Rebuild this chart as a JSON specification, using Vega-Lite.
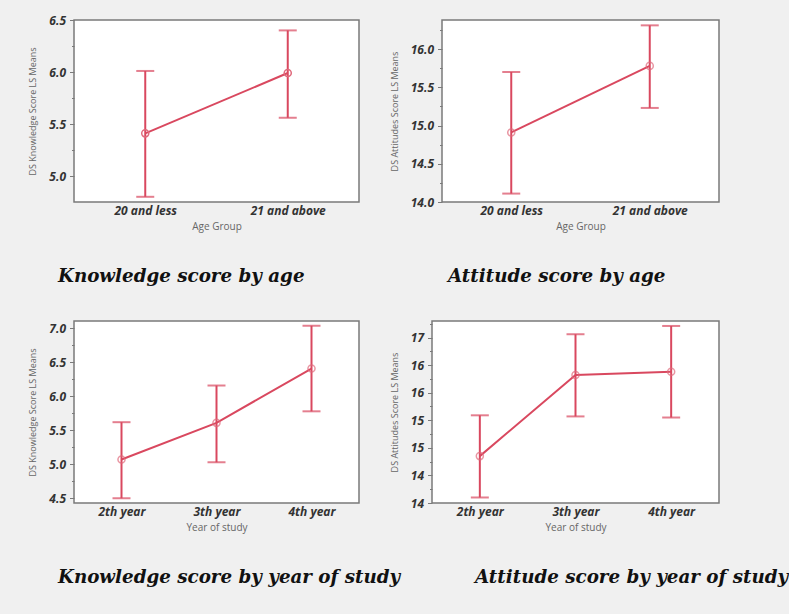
{
  "$schema": "https://vega.github.io/schema/vega-lite/v6.json",
  "padding": {"left": 28, "top": 13, "right": 30, "bottom": 40},
  "datasets": {
    "age_knowledge": [
      {"group": "20 and less", "mean": 5.41, "lower": 4.80, "upper": 6.01},
      {"group": "21 and above", "mean": 5.99, "lower": 5.56, "upper": 6.40}
    ],
    "age_attitude": [
      {"group": "20 and less", "mean": 14.91, "lower": 14.11, "upper": 15.70},
      {"group": "21 and above", "mean": 15.78, "lower": 15.23, "upper": 16.31}
    ],
    "year_knowledge": [
      {"group": "2th year", "mean": 5.07, "lower": 4.50, "upper": 5.62},
      {"group": "3th year", "mean": 5.61, "lower": 5.03, "upper": 6.16},
      {"group": "4th year", "mean": 6.41, "lower": 5.78, "upper": 7.04}
    ],
    "year_attitude": [
      {"group": "2th year", "mean": 14.85, "lower": 14.10, "upper": 15.59},
      {"group": "3th year", "mean": 16.32, "lower": 15.57, "upper": 17.06},
      {"group": "4th year", "mean": 16.38, "lower": 15.55, "upper": 17.21}
    ]
  },
  "spacing": 301,
  "bounds": "flush",
  "vconcat": [
    {
      "spacing": 83,
      "bounds": "flush",
      "hconcat": [
        {
          "width": 285, "height": 182,
          "data": {"name": "age_knowledge"},
          "title": {"text": "Knowledge score by age", "dx": -16},
          "encoding": {"x": {"field": "group", "type": "ordinal", "sort": null, "scale": {"type": "point", "padding": 0.5}, "axis": {"title": "Age Group"}}},
          "layer": [
            {"mark": {"type": "rule", "color": "#d9485f", "strokeWidth": 2},
             "encoding": {"y": {"field": "lower", "type": "quantitative", "title": "DS Knowledge Score LS Means",
               "scale": {"domain": [4.75, 6.5], "nice": false, "zero": false},
               "axis": {"tickCount": 40, "labelOverlap": false, "values": [5, 5.25, 5.5, 5.75, 6, 6.25, 6.5], "labelExpr": "datum.value % 0.5 == 0 ? format(datum.value, '.1f') : ''",
                 "tickSize": {"condition": {"test": "datum.value % 0.5 != 0", "value": 2.5}, "value": 4.5}}},
               "y2": {"field": "upper"}}},
            {"mark": {"type": "tick", "color": "#d9485f", "size": 18, "thickness": 2}, "encoding": {"y": {"field": "lower", "type": "quantitative", "title": "DS Knowledge Score LS Means"}}},
            {"mark": {"type": "tick", "color": "#d9485f", "size": 18, "thickness": 2}, "encoding": {"y": {"field": "upper", "type": "quantitative", "title": "DS Knowledge Score LS Means"}}},
            {"mark": {"type": "line", "color": "#d9485f", "strokeWidth": 2}, "encoding": {"y": {"field": "mean", "type": "quantitative", "title": "DS Knowledge Score LS Means"}}},
            {"mark": {"type": "point", "color": "#e06a7c", "filled": false, "size": 50, "strokeWidth": 1.5, "opacity": 1}, "encoding": {"y": {"field": "mean", "type": "quantitative", "title": "DS Knowledge Score LS Means"}}}
          ]
        },
        {
          "width": 277, "height": 182,
          "data": {"name": "age_attitude"},
          "title": {"text": "Attitude score by age", "dx": 6},
          "encoding": {"x": {"field": "group", "type": "ordinal", "sort": null, "scale": {"type": "point", "padding": 0.5}, "axis": {"title": "Age Group"}}},
          "layer": [
            {"mark": {"type": "rule", "color": "#d9485f", "strokeWidth": 2},
             "encoding": {"y": {"field": "lower", "type": "quantitative", "title": "DS Attitudes Score LS Means",
               "scale": {"domain": [14.0, 16.38], "nice": false, "zero": false},
               "axis": {"tickCount": 40, "labelOverlap": false, "values": [14, 14.25, 14.5, 14.75, 15, 15.25, 15.5, 15.75, 16, 16.25], "labelExpr": "datum.value % 0.5 == 0 ? format(datum.value, '.1f') : ''",
                 "tickSize": {"condition": {"test": "datum.value % 0.5 != 0", "value": 2.5}, "value": 4.5}}},
               "y2": {"field": "upper"}}},
            {"mark": {"type": "tick", "color": "#d9485f", "size": 18, "thickness": 2}, "encoding": {"y": {"field": "lower", "type": "quantitative", "title": "DS Attitudes Score LS Means"}}},
            {"mark": {"type": "tick", "color": "#d9485f", "size": 18, "thickness": 2}, "encoding": {"y": {"field": "upper", "type": "quantitative", "title": "DS Attitudes Score LS Means"}}},
            {"mark": {"type": "line", "color": "#d9485f", "strokeWidth": 2}, "encoding": {"y": {"field": "mean", "type": "quantitative", "title": "DS Attitudes Score LS Means"}}},
            {"mark": {"type": "point", "color": "#e06a7c", "filled": false, "size": 50, "strokeWidth": 1.5}, "encoding": {"y": {"field": "mean", "type": "quantitative", "title": "DS Attitudes Score LS Means"}}}
          ]
        }
      ]
    },
    {
      "spacing": 73,
      "bounds": "flush",
      "hconcat": [
        {
          "width": 285, "height": 182,
          "data": {"name": "year_knowledge"},
          "title": {"text": "Knowledge score by year of study", "dx": -16},
          "encoding": {"x": {"field": "group", "type": "ordinal", "sort": null, "scale": {"type": "point", "padding": 0.5}, "axis": {"title": "Year of study"}}},
          "layer": [
            {"mark": {"type": "rule", "color": "#d9485f", "strokeWidth": 2},
             "encoding": {"y": {"field": "lower", "type": "quantitative", "title": "DS Knowledge Score LS Means",
               "scale": {"domain": [4.43, 7.11], "nice": false, "zero": false},
               "axis": {"tickCount": 40, "labelOverlap": false, "values": [4.5, 4.75, 5, 5.25, 5.5, 5.75, 6, 6.25, 6.5, 6.75, 7], "labelExpr": "datum.value % 0.5 == 0 ? format(datum.value, '.1f') : ''",
                 "tickSize": {"condition": {"test": "datum.value % 0.5 != 0", "value": 2.5}, "value": 4.5}}},
               "y2": {"field": "upper"}}},
            {"mark": {"type": "tick", "color": "#d9485f", "size": 18, "thickness": 2}, "encoding": {"y": {"field": "lower", "type": "quantitative", "title": "DS Knowledge Score LS Means"}}},
            {"mark": {"type": "tick", "color": "#d9485f", "size": 18, "thickness": 2}, "encoding": {"y": {"field": "upper", "type": "quantitative", "title": "DS Knowledge Score LS Means"}}},
            {"mark": {"type": "line", "color": "#d9485f", "strokeWidth": 2}, "encoding": {"y": {"field": "mean", "type": "quantitative", "title": "DS Knowledge Score LS Means"}}},
            {"mark": {"type": "point", "color": "#e06a7c", "filled": false, "size": 50, "strokeWidth": 1.5}, "encoding": {"y": {"field": "mean", "type": "quantitative", "title": "DS Knowledge Score LS Means"}}}
          ]
        },
        {
          "width": 287, "height": 182,
          "data": {"name": "year_attitude"},
          "title": {"text": "Attitude score by year of study", "dx": 43},
          "encoding": {"x": {"field": "group", "type": "ordinal", "sort": null, "scale": {"type": "point", "padding": 0.5}, "axis": {"title": "Year of study"}}},
          "layer": [
            {"mark": {"type": "rule", "color": "#d9485f", "strokeWidth": 2},
             "encoding": {"y": {"field": "lower", "type": "quantitative", "title": "DS Attitudes Score LS Means",
               "scale": {"domain": [14.0, 17.3], "nice": false, "zero": false},
               "axis": {"tickCount": 40, "labelOverlap": false, "values": [14, 14.25, 14.5, 14.75, 15, 15.25, 15.5, 15.75, 16, 16.25, 16.5, 16.75, 17, 17.25], "labelExpr": "datum.value % 0.5 == 0 ? '' + floor(datum.value) : ''",
                 "tickSize": {"condition": {"test": "datum.value % 0.5 != 0", "value": 2.5}, "value": 4.5}}},
               "y2": {"field": "upper"}}},
            {"mark": {"type": "tick", "color": "#d9485f", "size": 18, "thickness": 2}, "encoding": {"y": {"field": "lower", "type": "quantitative", "title": "DS Attitudes Score LS Means"}}},
            {"mark": {"type": "tick", "color": "#d9485f", "size": 18, "thickness": 2}, "encoding": {"y": {"field": "upper", "type": "quantitative", "title": "DS Attitudes Score LS Means"}}},
            {"mark": {"type": "line", "color": "#d9485f", "strokeWidth": 2}, "encoding": {"y": {"field": "mean", "type": "quantitative", "title": "DS Attitudes Score LS Means"}}},
            {"mark": {"type": "point", "color": "#e06a7c", "filled": false, "size": 50, "strokeWidth": 1.5}, "encoding": {"y": {"field": "mean", "type": "quantitative", "title": "DS Attitudes Score LS Means"}}}
          ]
        }
      ]
    }
  ],
  "config": {
    "background": "#f0f0f0",
    "view": {"fill": "white", "stroke": "#7a7a7a", "strokeWidth": 1.5},
    "title": {"orient": "bottom", "anchor": "start", "frame": "group", "font": "DejaVu Serif", "fontSize": 18.3, "fontStyle": "italic", "fontWeight": "bold", "color": "#111111", "offset": 37},
    "axis": {"grid": false, "labelFont": "Open Sans", "labelFontWeight": "bold", "labelFontStyle": "italic", "labelFontSize": 12, "labelColor": "#333333", "titleFont": "Open Sans", "titleFontWeight": "normal", "titleFontSize": 10, "titleColor": "#666666", "domainColor": "#7a7a7a", "tickColor": "#7a7a7a", "labelOverlap": false},
    "axisX": {"ticks": false, "labelAngle": 0, "labelPadding": 3, "titlePadding": 5, "domain": false},
    "axisY": {"labelPadding": 4, "titlePadding": 11, "titleFontSize": 9, "domain": false}
  }
}
